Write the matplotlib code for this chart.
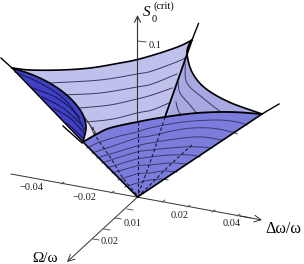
import matplotlib
matplotlib.use('Agg')
import matplotlib.pyplot as plt
import numpy as np

plt.rcParams['font.family'] = ['Liberation Serif', 'DejaVu Serif']

# all outlines, in picture coordinates
origin = (137.5, 197)
top_curve_x = [12, 30, 60, 90, 120, 137.5, 160, 180, 192]
top_curve_y = [68, 70, 70, 68, 63, 59.5, 53, 46, 40]
ridge_x = [192, 165]
ridge_y = [40, 117]
front_curve_x = [83, 97, 110, 137, 165, 197, 230, 262]
front_curve_y = [142, 134, 128, 122, 117, 113, 112, 114]
lens_curve_x = [12, 33, 53, 70, 82, 86, 83]
lens_curve_y = [68, 75, 85, 98, 113, 127, 142]
right_curve_x = [190, 187, 192, 205, 229, 262]
right_curve_y = [42, 53, 72, 88, 102, 114]
gap_x = [85, 97, 83]
gap_y = [118, 135, 142]

back_lines = [
    ([50, 100, 137, 152, 179, 185], [83, 80, 74, 71, 61, 58]),
    ([63, 100, 137, 152, 177], [95, 93, 87, 84, 74]),
    ([80, 110, 137, 152, 172], [108, 105, 99, 95, 88]),
    ([87, 113, 137, 152, 169], [122, 119, 113, 110, 103]),
]
right_lines = [
    ([185, 187, 203, 222], [63, 83, 98, 113]),
    ([178, 180, 190, 198], [82, 93, 105, 115]),
    ([176, 178, 183], [102, 110, 118]),
]
front_lines = [
    ([87, 100, 120, 137, 150, 183, 217, 237, 247], [148, 142, 136, 132, 128, 122, 120, 122, 125]),
    ([92, 113, 137, 150, 183, 210, 232, 237], [153, 146, 138, 136, 129, 128, 132, 134]),
    ([97, 117, 137, 150, 183, 203, 222], [158, 152, 146, 143, 138, 137, 140]),
    ([102, 120, 137, 150, 183, 200, 212], [163, 157, 152, 150, 147, 147, 148]),
    ([107, 123, 137, 150, 170, 190, 200], [168, 163, 159, 157, 155, 155, 157]),
    ([112, 137, 150, 170, 187], [173, 166, 165, 163, 164]),
    ([118, 137, 150, 163, 177], [180, 174, 173, 171, 172]),
    ([125, 137, 150, 163, 168], [187, 183, 180, 179, 180]),
]
lens_lines = [
    ([15, 40, 63, 80], [72, 83, 98, 118]),
    ([33, 57, 75, 84], [88, 98, 113, 130]),
    ([42, 63, 82], [97, 108, 125]),
    ([53, 70, 84], [108, 118, 133]),
    ([67, 83], [123, 138]),
]
dash_lines = [
    ([93, 95, 112, 123, 137], [127, 135, 160, 178, 195]),
    ([165, 152, 138], [117, 157, 195]),
    ([192, 170, 150, 138], [145, 165, 185, 196]),
    ([137.5, 137.5], [122, 197]),
]

x_tick_x = [61, 111, 162, 187, 212, 237]
x_tick_y = [184, 193, 202, 207, 212, 216]
y_tick_x = [127, 115, 104, 93]
y_tick_y = [209, 218, 229, 239]

x_labels = ['\u22120.04', '\u22120.02', '0.02', '0.04']
x_label_x = [32, 84, 180, 232]
x_label_y = [187, 198, 215, 224]
y_labels = ['0.01', '0.02']
y_label_x = [133, 110]
y_label_y = [223, 242]


def smooth(xs, ys, n=12):
    # catmull-rom through the read points, only so the curves do not look kinked
    p = np.column_stack([xs, ys]).astype(float)
    p = np.vstack([2 * p[0] - p[1], p, 2 * p[-1] - p[-2]])
    out = []
    for i in range(1, len(p) - 2):
        for t in np.linspace(0, 1, n, endpoint=False):
            out.append(0.5 * (2 * p[i] + (p[i + 1] - p[i - 1]) * t
                              + (2 * p[i - 1] - 5 * p[i] + 4 * p[i + 1] - p[i + 2]) * t ** 2
                              + (3 * p[i] - p[i - 1] - 3 * p[i + 1] + p[i + 2]) * t ** 3))
    out.append(p[-2])
    out = np.array(out)
    return list(out[:, 0]), list(out[:, 1])


fig = plt.figure(figsize=(3.04, 2.64), dpi=100)
ax = fig.add_axes([0, 0, 1, 1])
ax.set_xlim(0, 304)
ax.set_ylim(264, 0)
ax.axis('off')

top_x, top_y = smooth(top_curve_x, top_curve_y)
front_x, front_y = smooth(front_curve_x, front_curve_y)
lens_x, lens_y = smooth(lens_curve_x, lens_curve_y)
right_x, right_y = smooth(right_curve_x, right_curve_y)

# back sheets, the hidden sides end under the front sheet
ax.fill(top_x + [165, 97, 85], top_y + [125, 135, 118], color='#c0c0ec', lw=0, zorder=1)
ax.fill(right_x + [165], right_y + [125], color='#a8a8e2', lw=0, zorder=1)
ax.fill(gap_x, gap_y, color='#e4e4f6', lw=0, zorder=1)
ax.fill(lens_x, lens_y, color='#4040c4', lw=0, zorder=1)

for xs, ys in back_lines + right_lines:
    ax.plot(*smooth(xs, ys), color='#3a3a60', lw=0.7, zorder=2)
for xs, ys in lens_lines:
    ax.plot(*smooth(xs, ys), color='#15154a', lw=0.7, zorder=2)

# z axis
ax.annotate('', xy=(137.5, 15), xytext=(137.5, 122), zorder=3,
            arrowprops=dict(arrowstyle='->', color='#333333', lw=0.8, mutation_scale=11, shrinkA=0, shrinkB=0))
ax.plot([137.5, 146], [41, 42], color='#333333', lw=0.6, zorder=3)

ax.plot(gap_x[:2], gap_y[:2], color='#222222', lw=0.7, zorder=3)
ax.plot([90, 95], [125, 137], color='#444444', lw=0.6, zorder=3)
ax.plot(top_x, top_y, color='black', lw=1.2, zorder=4)
ax.plot(lens_x, lens_y, color='black', lw=1.2, zorder=4)
ax.plot(right_x, right_y, color='black', lw=1.2, zorder=4)
ax.plot(ridge_x, ridge_y, color='black', lw=1.3, zorder=4)
ax.plot([192, 198.5], [40, 23.5], color='black', lw=1, zorder=4)
ax.plot([262, 279], [114, 104], color='black', lw=1, zorder=4)
ax.plot([1, 12, 83], [58, 68, 142], color='black', lw=1, zorder=4)
ax.plot([63, 82], [126, 143], color='black', lw=1, zorder=4)

# front sheet
ax.fill(front_x + [origin[0]], front_y + [origin[1]], color='#7c7cdc', lw=0, zorder=5)
for xs, ys in front_lines:
    ax.plot(*smooth(xs, ys), color='#3a3a70', lw=0.7, zorder=6)
for xs, ys in dash_lines:
    ax.plot(*smooth(xs, ys), color='#181830', lw=0.8, ls=(0, (3, 2)), zorder=6)
ax.plot(front_x, front_y, color='black', lw=1.3, zorder=7)
ax.plot([83, origin[0], 262], [142, origin[1], 114], color='black', lw=1.2, zorder=7)

# ground axes
ax.plot([11, 250], [174, 217.8], color='#333333', lw=0.7, zorder=0)
ax.annotate('', xy=(262, 220), xytext=(240, 216), zorder=0,
            arrowprops=dict(arrowstyle='->', color='#333333', lw=0.7, mutation_scale=12, shrinkA=0, shrinkB=0))
ax.annotate('', xy=(67, 262), xytext=origin, zorder=0,
            arrowprops=dict(arrowstyle='->', color='#333333', lw=0.7, mutation_scale=12, shrinkA=0, shrinkB=0))
for x, y in zip(x_tick_x, x_tick_y):
    ax.plot([x, x + 3], [y, y - 2], color='#444444', lw=0.6)
for x, y in zip(y_tick_x, y_tick_y):
    ax.plot([x, x + 6], [y, y + 1], color='#444444', lw=0.6)

for s, x, y in zip(x_labels + y_labels, x_label_x + y_label_x, x_label_y + y_label_y):
    ax.text(x, y, s, fontsize=7.5, ha='center', va='center', color='#222222')
ax.text(155, 45, '0.1', fontsize=7.5, ha='center', va='center', color='#222222')
ax.text(147, 12, 'S', fontsize=11, style='italic', ha='center', va='center')
ax.text(154, 19, '0', fontsize=7.5, ha='center', va='center')
ax.text(164, 6, '(crit)', fontsize=7.5, ha='center', va='center')
ax.text(45, 262, '\u03a9/\u03c9', fontsize=11, ha='center', va='baseline')
ax.text(283, 233, '\u0394\u03c9/\u03c9', fontsize=11.5, ha='center', va='baseline')

fig.savefig('out.png', dpi=100)
